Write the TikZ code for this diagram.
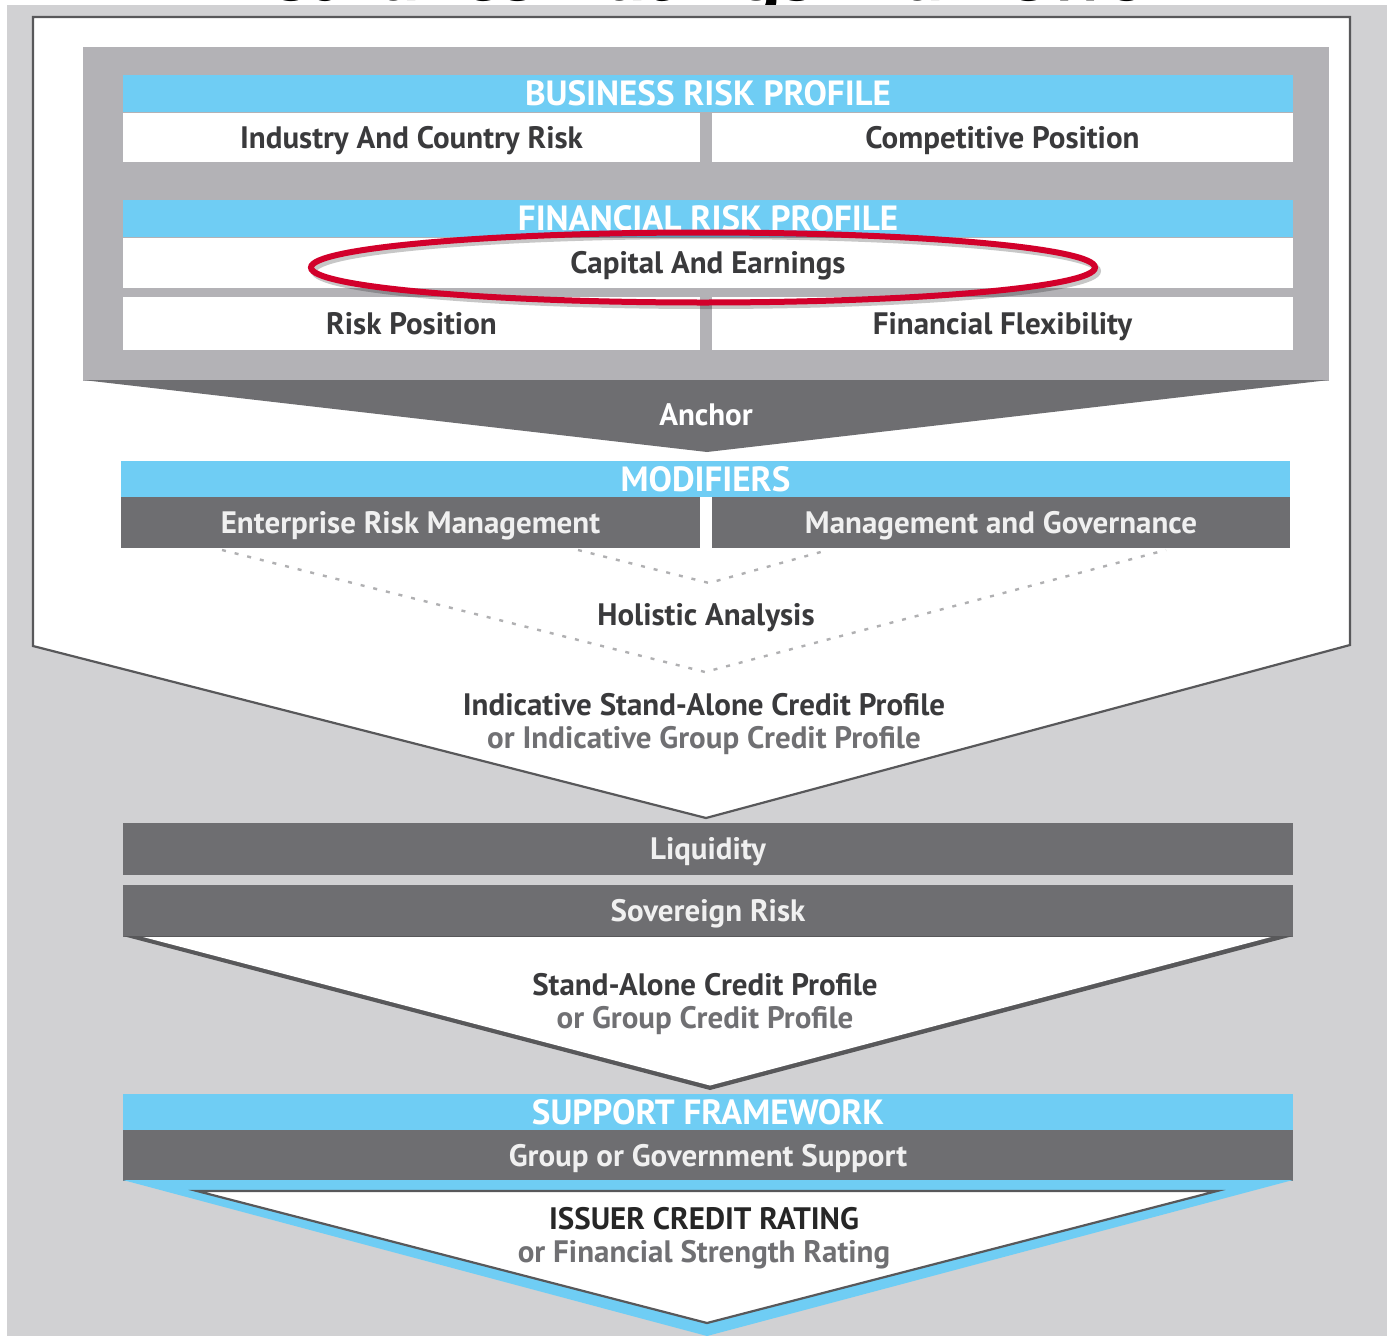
\documentclass[tikz,border=0pt]{standalone}
\usepackage{fontspec}
\setmainfont{PT Sans}
\definecolor{bggray}{HTML}{D1D1D3}
\definecolor{boxgray}{HTML}{B3B2B6}
\definecolor{dgray}{HTML}{6E6E71}
\definecolor{edge}{HTML}{58585A}
\definecolor{sky}{HTML}{6FCDF4}
\definecolor{redring}{HTML}{D2002B}
\definecolor{txtdark}{HTML}{3A3A3C}
\definecolor{txtgray}{HTML}{707073}
\definecolor{txtlight}{HTML}{F0F0F0}
\definecolor{dotgray}{HTML}{B0B0B2}
\begin{document}
\begin{tikzpicture}[x=1pt,y=-1pt,
  base/.style={inner sep=0pt, outer sep=0pt, text height=21.5pt, text depth=0pt,
               font=\bfseries\fontsize{31}{33}\selectfont},
  hdr/.style={base, fill=sky, text=white, text height=24pt, font=\bfseries\fontsize{35}{37}\selectfont},
  wcell/.style={base, fill=white, text=txtdark},
  dcell/.style={base, fill=dgray, text=txtlight},
  lbl/.style={base, text=txtdark},
  sublbl/.style={base, text=txtgray},
  dotline/.style={draw=dotgray, line width=2.4pt, dash pattern=on 4pt off 9pt},
  sz/.style 2 args={minimum width=#1pt, minimum height=#2pt}
]
\useasboundingbox (0,0) rectangle (1387,1336);
% cut-off title (only its lowest pixels show above the background)
\begin{scope}
\clip (0,0) rectangle (1387,1336);
\node[inner sep=0pt, anchor=base, font=\bfseries\fontsize{80}{80}\selectfont] (title) at (712,0.8) {Insurance Ratings Framework};
\end{scope}
% background
\fill[bggray] (7,4.5) rectangle (1387,1336);
% outer white panel
\filldraw[fill=white, draw=edge, line width=2.2pt, line join=miter]
  (33,17) -- (1350,17) -- (1350,645) -- (706,818) -- (33,646) -- cycle;
% inner gray box and anchor chevron
\fill[boxgray] (83,47) rectangle (1329,381);
\fill[dgray] (83,380) -- (1329,380) -- (707,452) -- cycle;
% business risk profile
\node[hdr, sz={1170}{37}] (brp) at (708,93.5) {BUSINESS RISK PROFILE};
\node[wcell, sz={577}{49}] (ind) at (411.5,137.5) {Industry And Country Risk};
\node[wcell, sz={581}{49}] (comp) at (1002.5,137.5) {Competitive Position};
% financial risk profile
\node[hdr, sz={1170}{37}] (frp) at (708,218.5) {FINANCIAL RISK PROFILE};
\node[wcell, sz={1170}{50}] (cap) at (708,263) {Capital And Earnings};
\node[wcell, sz={577}{53}] (riskpos) at (411.5,323.5) {Risk Position};
\node[wcell, sz={581}{53}] (finflex) at (1002.5,323.5) {Financial Flexibility};
% red highlight ring
\draw[black, opacity=0.22, line width=6pt] (706,271) ellipse [x radius=392, y radius=35];
\draw[redring, line width=6pt] (703,267.5) ellipse [x radius=392, y radius=35];
% anchor
\node[base, text=white] (anchor) at (706,415) {Anchor};
% modifiers
\node[hdr, sz={1169}{36}] (mod) at (705.5,479) {MODIFIERS};
\node[dcell, sz={579}{51}] (erm) at (410.5,522.5) {Enterprise Risk Management};
\node[dcell, sz={578}{51}] (mg) at (1001,522.5) {Management and Governance};
% holistic analysis dotted lines
\coordinate (vin) at (709,583);
\coordinate (vout) at (705,672);
\draw[dotline] (222,550) -- (vout) -- (1166,550);
\draw[dotline] (578,550) -- (vin) -- (828,550);
\node[lbl] (hol) at (706,615) {Holistic Analysis};
\node[lbl] (isacp) at (704,705) {Indicative Stand-Alone Credit Profile};
\node[sublbl] (igcp) at (704,738) {or Indicative Group Credit Profile};
% liquidity and sovereign
\node[dcell, sz={1170}{52}] (liq) at (708,849) {Liquidity};
\node[dcell, sz={1170}{52}] (sov) at (708,911) {Sovereign Risk};
\fill[edge] (123,936) -- (1293,936) -- (710,1090) -- cycle;
\fill[white] (143,937) -- (1271,937) -- (710,1085.5) -- cycle;
\node[lbl] (sacp) at (705,985) {Stand-Alone Credit Profile};
\node[sublbl] (gcp) at (705,1018) {or Group Credit Profile};
% support framework
\node[hdr, sz={1170}{36}] (sup) at (708,1112) {SUPPORT FRAMEWORK};
\node[dcell, sz={1170}{51}] (gov) at (708,1155.5) {Group or Government Support};
\fill[sky] (123,1180) -- (1293,1180) -- (707,1336) -- cycle;
\filldraw[fill=white, draw=edge, line width=2.2pt, line join=miter]
  (197,1191) -- (1217,1191) -- (707,1323) -- cycle;
\node[lbl, text=black!85] (icr) at (704,1219) {ISSUER CREDIT RATING};
\node[sublbl] (fsr) at (704,1252) {or Financial Strength Rating};
\end{tikzpicture}
\end{document}
